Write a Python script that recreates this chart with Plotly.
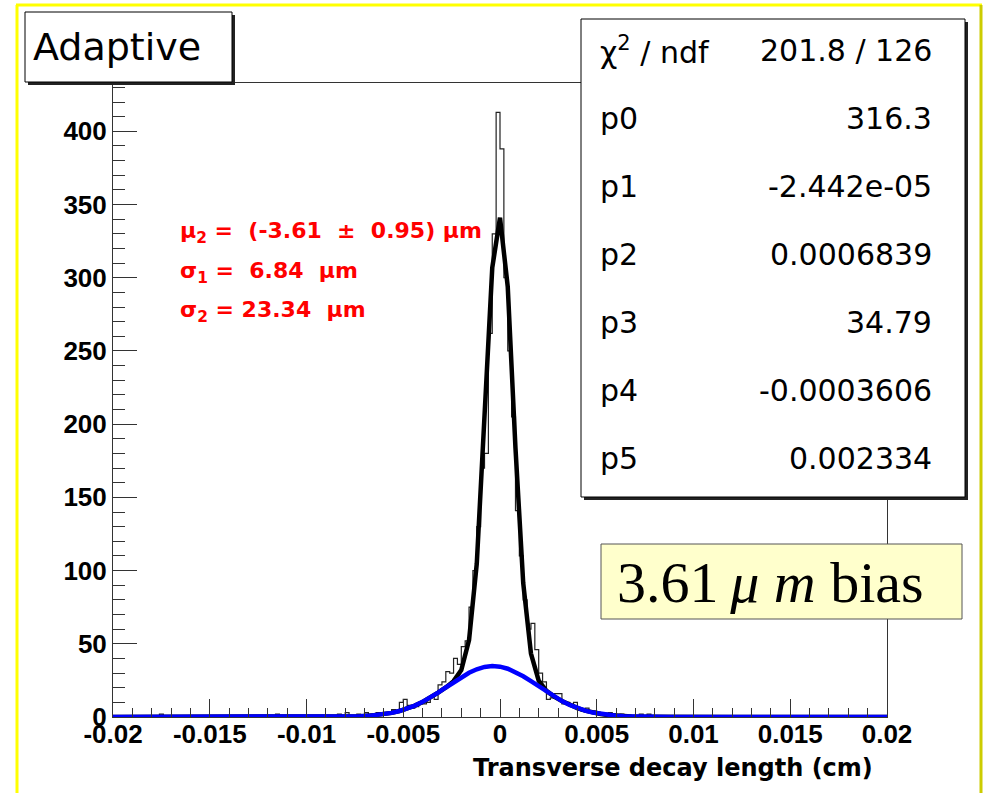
import numpy as np
import plotly.graph_objects as go

# ---------------- data ----------------
x_min, x_max, n_bins = -0.02, 0.02, 200

# histogram contents (200 bins of width 0.0002 cm)
bin_counts = [
    0, 0, 0, 0, 0, 0, 0, 0, 0, 0,
    0, 0, 2, 0, 0, 0, 0, 0, 0, 0,
    0, 0, 0, 0, 0, 0, 1, 0, 0, 0,
    0, 0, 0, 1, 0, 0, 0, 0, 0, 1,
    0, 0, 2, 1, 0, 0, 0, 0, 0, 0,
    1, 0, 0, 1, 0, 0, 0, 0, 2, 1,
    3, 0, 1, 2, 1, 3, 2, 1, 3, 3,
    2, 3, 5, 4, 10, 12, 8, 6, 7, 10,
    9, 10, 14, 12, 22, 24, 31, 30, 40, 36,
    48, 52, 75, 100, 130, 170, 180, 262, 330, 413,
    388, 300, 250, 205, 141, 110, 80, 60, 64, 46,
    30, 24, 12, 13, 16, 16, 9, 10, 8, 10,
    5, 4, 6, 3, 4, 2, 3, 1, 3, 2,
    1, 2, 1, 0, 1, 0, 2, 1, 2, 0,
    0, 1, 0, 0, 0, 1, 0, 0, 0, 0,
    0, 0, 0, 0, 0, 0, 0, 0, 0, 0,
    0, 0, 0, 0, 0, 0, 0, 0, 0, 0,
    0, 0, 1, 0, 0, 0, 0, 0, 0, 0,
    0, 0, 0, 0, 0, 0, 0, 0, 0, 0,
    0, 0, 0, 0, 0, 0, 0, 0, 0, 0,
]

# fit curves sampled at 101 points from -0.02 to 0.02 (step 0.0004 cm)
n_fit = 101
fit_total = (
    [0.0] * 28 +
    [0.05, 0.09, 0.16, 0.28, 0.48, 0.77, 1.22, 1.88, 2.80, 4.06,
     5.70, 7.78, 10.3, 13.3, 16.6, 20.2, 24.5, 32.1, 52.5, 104.8,
     200.5, 306.8, 341.0, 293.9, 183.7, 91.5, 43.3, 24.8, 17.9, 13.9,
     10.9, 8.25, 6.07, 4.35, 3.02, 2.04, 1.33, 0.85, 0.52, 0.31,
     0.18, 0.10, 0.05] +
    [0.0] * 30
)
fit_second = (
    [0.0] * 28 +
    [0.05, 0.09, 0.16, 0.28, 0.48, 0.77, 1.22, 1.88, 2.80, 4.06,
     5.70, 7.78, 10.32, 13.28, 16.60, 20.15, 23.75, 27.19, 30.22, 32.61,
     34.18, 34.79, 34.38, 32.99, 30.74, 27.82, 24.45, 20.86, 17.29, 13.91,
     10.87, 8.25, 6.07, 4.35, 3.02, 2.04, 1.33, 0.85, 0.52, 0.31,
     0.18, 0.10, 0.05] +
    [0.0] * 30
)

x_tick_vals = [-0.02, -0.015, -0.01, -0.005, 0, 0.005, 0.01, 0.015, 0.02]
x_tick_labels = ["-0.02", "-0.015", "-0.01", "-0.005", "0", "0.005", "0.01", "0.015", "0.02"]
y_tick_vals = [0, 50, 100, 150, 200, 250, 300, 350, 400]
y_tick_labels = ["0", "50", "100", "150", "200", "250", "300", "350", "400"]

title_text = "Adaptive"
x_title = "Transverse decay length (cm)"
stat_labels = ["χ<sup>2</sup> / ndf", "p0", "p1", "p2", "p3", "p4", "p5"]
stat_values = ["201.8 / 126", "316.3", "-2.442e-05", "0.0006839", "34.79", "-0.0003606", "0.002334"]
fit_lines = [
    "μ<sub>2</sub> =\u00a0\u00a0(-3.61\u00a0\u00a0±\u00a0\u00a00.95) μm",
    "σ<sub>1</sub> =\u00a0\u00a06.84\u00a0\u00a0μm",
    "σ<sub>2</sub> = 23.34\u00a0\u00a0μm",
]
bias_text = "3.61\u2009<i>μ m</i> bias"

# ---------------- layout geometry ----------------
W, H = 986, 793
ML, MR, MT, MB = 113, 99, 83, 76
PW, PH = W - ML - MR, H - MT - MB


def fx(px):
    return (px - ML) / PW


def fy(py):
    return (H - MB - py) / PH


edges = np.linspace(x_min, x_max, n_bins + 1)
hist_x = [edges[0]] + list(edges)
hist_y = [0] + list(bin_counts) + [bin_counts[-1]]
fit_x = np.linspace(x_min, x_max, n_fit)

fig = go.Figure()
fig.add_trace(go.Scatter(x=hist_x, y=hist_y, mode="lines", line=dict(shape="hv", color="#222222", width=1.2),
                         hoverinfo="skip", showlegend=False))
fig.add_trace(go.Scatter(x=fit_x, y=fit_total, mode="lines", line=dict(color="black", width=4.5),
                         showlegend=False))
fig.add_trace(go.Scatter(x=fit_x, y=fit_second, mode="lines", line=dict(color="#0000ff", width=4.5),
                         showlegend=False))

tick_font = dict(family="Liberation Sans", size=26, color="black", weight="bold")
axis_col = "#333333"

fig.update_xaxes(range=[x_min, x_max], tickmode="array", tickvals=x_tick_vals, ticktext=x_tick_labels,
                 ticks="inside", ticklen=18, tickcolor=axis_col, tickwidth=1,
                 minor=dict(tickmode="linear", tick0=-0.02, dtick=0.001, ticks="inside", ticklen=9,
                            tickcolor=axis_col, tickwidth=1),
                 showline=True, linecolor=axis_col, linewidth=1, mirror=True,
                 showgrid=False, zeroline=False, tickfont=tick_font, ticklabelstandoff=-6)
fig.update_yaxes(range=[0, 433], tickmode="array", tickvals=y_tick_vals, ticktext=y_tick_labels,
                 ticks="inside", ticklen=24, tickcolor=axis_col, tickwidth=1,
                 minor=dict(tickmode="linear", tick0=0, dtick=10, ticks="inside", ticklen=12,
                            tickcolor=axis_col, tickwidth=1),
                 showline=True, linecolor=axis_col, linewidth=1, mirror=True,
                 showgrid=False, zeroline=False, tickfont=tick_font)

shapes = []
# yellow outer border
shapes.append(dict(type="line", xref="paper", yref="paper", x0=fx(16), x1=fx(982), y0=fy(5), y1=fy(5),
                   line=dict(color="#ffff00", width=3), layer="above"))
shapes.append(dict(type="line", xref="paper", yref="paper", x0=fx(17), x1=fx(17), y0=fy(5), y1=fy(800),
                   line=dict(color="#ffff00", width=3), layer="above"))
shapes.append(dict(type="line", xref="paper", yref="paper", x0=fx(981), x1=fx(981), y0=fy(5), y1=fy(800),
                   line=dict(color="#cccc00", width=3), layer="above"))


def box(x0, y0, x1, y1, fill, line_col, shadow):
    if shadow:
        shapes.append(dict(type="rect", xref="paper", yref="paper", x0=fx(x0 + 3), x1=fx(x1 + 3),
                           y0=fy(y0 + 3), y1=fy(y1 + 3), fillcolor="#222222", line=dict(width=0),
                           layer="above"))
    shapes.append(dict(type="rect", xref="paper", yref="paper", x0=fx(x0), x1=fx(x1), y0=fy(y0), y1=fy(y1),
                       fillcolor=fill, line=dict(color=line_col, width=1), layer="above"))


box(25, 12, 232, 82, "white", "black", True)
box(581, 19, 965, 497, "white", "black", True)
box(601, 544, 962, 619, "#ffffcc", "#555555", False)

ann = []
ann.append(dict(text=title_text, x=fx(31), y=fy(47), xanchor="left", yanchor="middle",
                font=dict(family="DejaVu Sans", size=38, color="black")))
for i, (lab, val) in enumerate(zip(stat_labels, stat_values)):
    yy = 50 + 68 * i
    ann.append(dict(text=lab, x=fx(598), y=fy(yy), xanchor="left", yanchor="middle",
                    font=dict(family="DejaVu Sans", size=30, color="black")))
    ann.append(dict(text=val, x=fx(934), y=fy(yy), xanchor="right", yanchor="middle",
                    font=dict(family="DejaVu Sans", size=30, color="black")))
for i, t in enumerate(fit_lines):
    ann.append(dict(text=t, x=fx(178), y=fy(233 + 39 * i), xanchor="left", yanchor="middle",
                    font=dict(family="DejaVu Sans", size=22, color="#ff0000", weight="bold")))
ann.append(dict(text=bias_text, x=fx(615), y=fy(582), xanchor="left", yanchor="middle",
                font=dict(family="Liberation Serif", size=58, color="black")))
ann.append(dict(text=x_title, x=fx(875), y=fy(768), xanchor="right", yanchor="middle",
                font=dict(family="DejaVu Sans", size=24, color="black", weight="bold")))
for a in ann:
    a.update(xref="paper", yref="paper", showarrow=False)

fig.update_layout(width=W, height=H, margin=dict(l=ML, r=MR, t=MT, b=MB, autoexpand=False),
                  paper_bgcolor="white", plot_bgcolor="white", shapes=shapes, annotations=ann,
                  showlegend=False)
fig.write_html("out.html")
